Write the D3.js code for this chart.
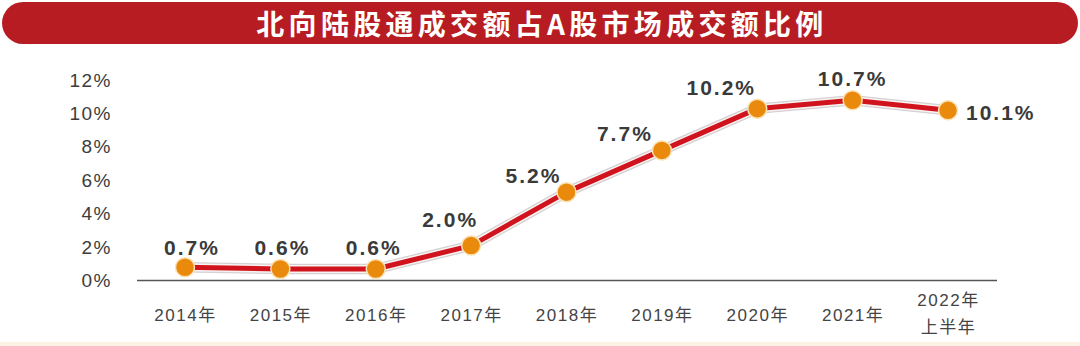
<!DOCTYPE html>
<html><head><meta charset="utf-8">
<script src="https://cdn.jsdelivr.net/npm/d3@7"></script>
<style>body{margin:0;background:#fff}svg{display:block}</style>
</head><body>
<script>
const categories = ["2014年","2015年","2016年","2017年","2018年","2019年","2020年","2021年","2022年\n上半年"];
const values = [0.7,0.6,0.6,2.0,5.2,7.7,10.2,10.7,10.1];
const valueLabels = ["0.7%","0.6%","0.6%","2.0%","5.2%","7.7%","10.2%","10.7%","10.1%"];
const yTicks = [0,2,4,6,8,10,12];
const title = "北向陆股通成交额占A股市场成交额比例";
// label placement (style): [dx, dy, anchor]
const labelPlacement = [[7,-20,"middle"],[2,-21,"middle"],[-2,-21,"middle"],[-21,-26,"middle"],[-33,-17,"middle"],[-37,-17,"middle"],[-36,-21,"middle"],[0,-22,"middle"],[18,2,"start"]];

const W=1080,H=346;
const svg=d3.select("body").append("svg").attr("width",W).attr("height",H);
const font="'Liberation Sans','Noto Sans CJK SC',Arial,sans-serif";

svg.append("rect").attr("x",0).attr("y",342).attr("width",W).attr("height",4).attr("fill","#fdf1e3");
svg.append("rect").attr("x",2).attr("y",2).attr("width",1076).attr("height",42).attr("rx",21).attr("fill","#b71c22");
svg.append("text").attr("x",542).attr("y",23).attr("text-anchor","middle").attr("dominant-baseline","central")
  .attr("fill","#fff").attr("font-family","'Noto Sans CJK SC',sans-serif").attr("font-weight","bold").attr("font-size",28)
  .attr("letter-spacing","4.3px").text(title);

const x=d3.scalePoint().domain(categories).range([185,948]);
const y=d3.scaleLinear().domain([0,12]).range([279,78.6]);

const g=svg.append("g");
const ya=d3.axisLeft(y).tickValues(yTicks).tickFormat(d=>d+"%").tickSize(0).tickPadding(0);
const yg=g.append("g").attr("transform","translate(112,1.5)").call(ya);
yg.select(".domain").remove();
yg.selectAll("text").attr("font-family",font).attr("font-size",19).attr("fill","#3c3c3c").attr("letter-spacing","1.5px");

g.append("line").attr("x1",137).attr("x2",997).attr("y1",280.5).attr("y2",280.5).attr("stroke","#555").attr("stroke-width",1.5);

const xa=d3.axisBottom(x).tickSize(0).tickFormat("");
const xg=g.append("g").attr("transform","translate(0,280)").call(xa);
xg.select(".domain").remove();
xg.selectAll(".tick").each(function(d){
  const lines=d.split("\n");
  const t=d3.select(this).append("text").attr("font-family",font).attr("font-size",17).attr("fill","#444")
    .attr("text-anchor","middle").attr("letter-spacing","1.5px");
  if(lines.length===1){t.append("tspan").attr("x",0).attr("y",41).text(lines[0]);}
  else{t.append("tspan").attr("x",0).attr("y",26).text(lines[0]);t.append("tspan").attr("x",0).attr("y",53).text(lines[1]);}
});

const line=d3.line().x((d,i)=>x(categories[i])).y(d=>y(d));
g.append("path").datum(values).attr("d",line).attr("fill","none").attr("stroke","#d6d0d0").attr("stroke-width",10.5).attr("stroke-linejoin","round");
g.append("path").datum(values).attr("d",line).attr("fill","none").attr("stroke","#f7f3f3").attr("stroke-width",8).attr("stroke-linejoin","round");
g.append("path").datum(values).attr("d",line).attr("fill","none").attr("stroke","#d0131c").attr("stroke-width",5).attr("stroke-linejoin","round");

g.selectAll("circle.pt").data(values).join("circle").attr("class","pt")
  .attr("cx",(d,i)=>x(categories[i])).attr("cy",d=>y(d)).attr("r",9.5)
  .attr("fill","#ea8a0c").attr("stroke","#fbe3b5").attr("stroke-width",1.5);

g.selectAll("text.val").data(values).join("text").attr("class","val")
  .attr("x",(d,i)=>x(categories[i])+labelPlacement[i][0])
  .attr("y",(d,i)=>y(d)+labelPlacement[i][1])
  .attr("text-anchor",(d,i)=>labelPlacement[i][2])
  .attr("dominant-baseline","central")
  .attr("font-family",font).attr("font-size",21).attr("font-weight","bold").attr("fill","#3a3a3a").attr("letter-spacing","2px")
  .text((d,i)=>valueLabels[i]);
</script>
</body></html>
